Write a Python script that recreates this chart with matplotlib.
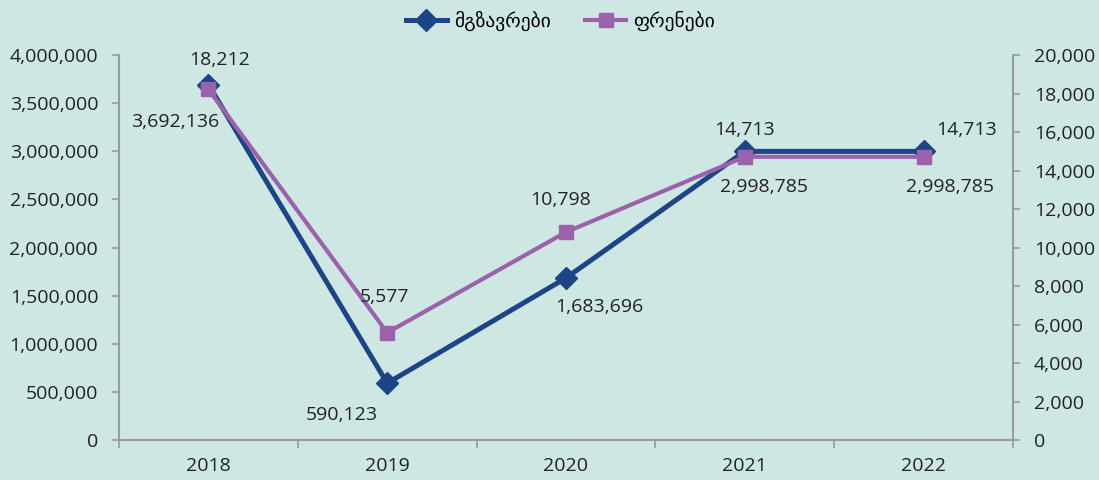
import matplotlib.pyplot as plt
import numpy as np
from matplotlib.ticker import FuncFormatter, MultipleLocator

plt.rcParams['font.family'] = ['Open Sans', 'DejaVu Sans']

years = ['2018', '2019', '2020', '2021', '2022']
passengers = [3692136, 590123, 1683696, 2998785, 2998785]
flights = [18212, 5577, 10798, 14713, 14713]
pass_name = 'მგზავრები'
flight_name = 'ფრენები'

bg = '#cfe7e3'
blue = '#1c4587'
purple = '#9b62ab'
grey = '#9a9a9a'
txt = '#222222'
fs = 14

fig = plt.figure(figsize=(10.99, 4.8), dpi=100, facecolor=bg)
ax = fig.add_axes([0.1083, 0.0833, 0.8134, 0.8021])
ax.set_facecolor(bg)
ax2 = ax.twinx()

x = np.arange(len(years))
l1, = ax.plot(x, passengers, color=blue, lw=3.6, marker='D', ms=11,
              label=pass_name, zorder=3)
l2, = ax2.plot(x, flights, color=purple, lw=3.0, marker='s', ms=10.5,
               label=flight_name, zorder=3)

ax.set_xlim(-0.5, 4.5)
ax.set_ylim(0, 4000000)
ax2.set_ylim(0, 20000)
ax.yaxis.set_major_locator(MultipleLocator(500000))
ax2.yaxis.set_major_locator(MultipleLocator(2000))
fmt = FuncFormatter(lambda v, p: f'{int(v):,}')
ax.yaxis.set_major_formatter(fmt)
ax2.yaxis.set_major_formatter(fmt)

ax.set_xticks(x)
ax.set_xticklabels(years)
ax.set_xticks(np.arange(-0.5, 5, 1), minor=True)
ax.tick_params(axis='x', which='major', length=0, pad=12, labelsize=fs, colors=txt)
ax.tick_params(axis='x', which='minor', length=6, width=1.2, color=grey)
ax.tick_params(axis='y', length=5, width=1.2, color=grey, labelsize=fs, labelcolor=txt, pad=10)
ax2.tick_params(axis='y', length=5, width=1.2, color=grey, labelsize=fs, labelcolor=txt, pad=10)

for a in (ax, ax2):
    for s in a.spines.values():
        s.set_visible(False)
    a.spines['left'].set_visible(a is ax)
    a.spines['right'].set_visible(a is ax2)
    a.spines['bottom'].set_visible(a is ax)
    for s in ('left', 'right', 'bottom'):
        a.spines[s].set_color(grey)
        a.spines[s].set_linewidth(1.5)

# data labels
p_off = [(-24, -27), (-33, -23), (24, -21), (14, -26), (19, -26)]
for i, v in enumerate(passengers):
    ax.annotate(f'{v:,}', (x[i], v), xytext=p_off[i], textcoords='offset points',
                ha='center', va='center', fontsize=fs, color=txt)
f_off = [(8, 21), (-2, 26), (-4, 23), (0, 19), (31, 19)]
for i, v in enumerate(flights):
    ax2.annotate(f'{v:,}', (x[i], v), xytext=f_off[i], textcoords='offset points',
                 ha='center', va='center', fontsize=fs, color=txt)

fig.legend(handles=[l1, l2], loc='upper center', bbox_to_anchor=(0.51, 1.015),
           ncol=2, frameon=False, fontsize=fs, handlelength=2.1,
           columnspacing=1.8, handletextpad=0.35)

fig.savefig('out.png', dpi=100, facecolor=bg)
